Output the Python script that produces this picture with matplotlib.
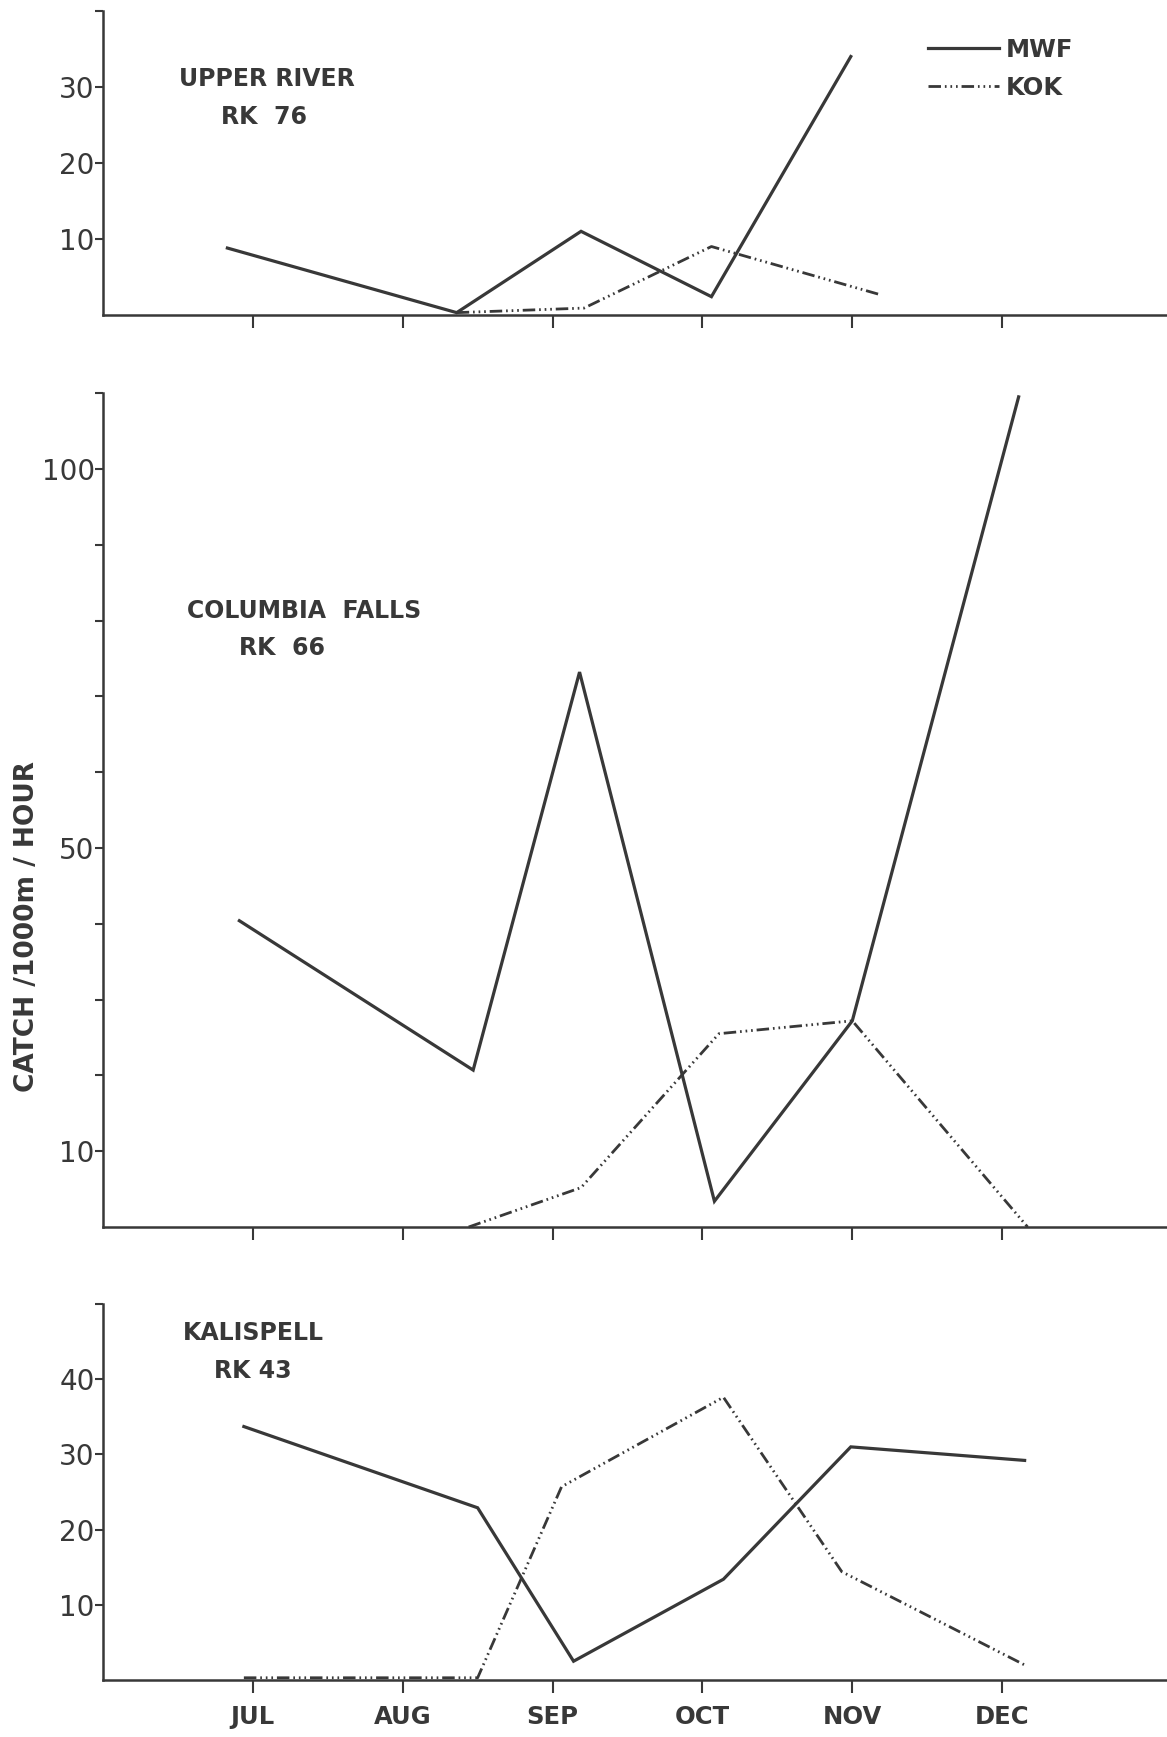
# -------------------------------------------------------------
# MONTHLY CATCH RATES - MWF AND KOK, THREE RIVER SECTIONS
# -------------------------------------------------------------


# Import libraries
import matplotlib
matplotlib.use('Agg')
import matplotlib.pyplot as plt


# Month positions (7 = JUL ... 12 = DEC) and catch / 1000m / hour
monthTicks = [7, 8, 9, 10, 11, 12]
monthLabels = ['JUL', 'AUG', 'SEP', 'OCT', 'NOV', 'DEC']

# Upper River, RK 76
upperMwfX = [6.83, 8.36, 9.19, 10.06, 10.99]
upperMwfY = [8.8, 0.3, 11.0, 2.4, 34.0]
upperKokX = [8.36, 9.21, 10.06, 11.18]
upperKokY = [0.3, 0.9, 9.0, 2.7]

# Columbia Falls, RK 66
columbiaMwfX = [6.91, 8.47, 9.18, 10.08, 11.0, 12.11]
columbiaMwfY = [40.4, 20.7, 73.2, 3.4, 27.2, 109.5]
columbiaKokX = [8.44, 9.19, 10.11, 11.0, 12.17]
columbiaKokY = [0.0, 5.2, 25.5, 27.2, 0.0]

# Kalispell, RK 43
kalispellMwfX = [6.94, 8.50, 9.14, 10.14, 10.99, 12.15]
kalispellMwfY = [33.7, 22.9, 2.5, 13.4, 31.0, 29.2]
kalispellKokX = [6.94, 8.50, 9.06, 10.14, 10.93, 12.16]
kalispellKokY = [0.3, 0.3, 25.7, 37.6, 14.4, 1.9]


# Common style
ink = '#383838'
kokDashes = (4.5, 1.4, 0.6, 1.4, 0.6, 1.4, 0.6, 1.4)
plt.rcParams['font.family'] = ['DejaVu Sans']


# Set up spines, ticks and labels of one panel
def styleAxes(axes, ymax, yticks, ylabels, showMonths):

    axes.set_xlim(6.0, 13.1)
    axes.set_ylim(0, ymax)
    for side in ['top', 'right']:
        axes.spines[side].set_visible(False)
    for side in ['left', 'bottom']:
        axes.spines[side].set_linewidth(1.8)
        axes.spines[side].set_color(ink)

    axes.set_yticks(yticks)
    axes.set_yticklabels(ylabels, fontsize=20, color=ink)
    axes.tick_params(axis='y', direction='out', length=6, width=1.5,
                     color=ink, pad=0)

    axes.set_xticks(monthTicks)
    if showMonths:
        axes.set_xticklabels(monthLabels, fontsize=17.5, fontweight='bold',
                             color=ink)
    else:
        axes.set_xticklabels([''] * len(monthTicks))
    axes.tick_params(axis='x', direction='out', length=9, width=1.5,
                     color=ink, pad=9)


# Draw both series into one panel
def drawSeries(axes, mwfX, mwfY, kokX, kokY):

    axes.plot(mwfX, mwfY, '-', color=ink, linewidth=2.3, label='MWF',
              clip_on=False, solid_joinstyle='miter')
    axes.plot(kokX, kokY, color=ink, linewidth=2.0, dashes=kokDashes,
              label='KOK', clip_on=False)


# Panel title in two lines
def panelTitle(axes, x1, y1, line1, x2, y2, line2):

    axes.text(x1, y1, line1, transform=axes.transAxes, ha='center',
              va='center', fontsize=17, fontweight='bold', color=ink)
    axes.text(x2, y2, line2, transform=axes.transAxes, ha='center',
              va='center', fontsize=17, fontweight='bold', color=ink)


# Figure
fig = plt.figure(figsize=(11.67, 17.37), dpi=100)
fig.patch.set_facecolor('white')

left = 103 / 1167
width = 1.0 - left

# Upper River
ax1 = fig.add_axes([left, 0.8187, width, 0.175])
drawSeries(ax1, upperMwfX, upperMwfY, upperKokX, upperKokY)
styleAxes(ax1, 40, [10, 20, 30, 40], ['10', '20', '30', ''], False)
panelTitle(ax1, 0.154, 0.775, 'UPPER RIVER', 0.151, 0.65, 'RK  76')
leg = ax1.legend(loc='upper left', bbox_to_anchor=(0.764, 0.952), frameon=False,
                 handlelength=2.9, handletextpad=0.3, labelspacing=0.58,
                 borderpad=0, prop={'size': 17.5, 'weight': 'bold'})
for txt in leg.get_texts():
    txt.set_color(ink)

# Columbia Falls
ax2 = fig.add_axes([left, 0.2936, width, 0.4801])
drawSeries(ax2, columbiaMwfX, columbiaMwfY, columbiaKokX, columbiaKokY)
yt2 = [10, 20, 30, 40, 50, 60, 70, 80, 90, 100, 110]
yl2 = ['10', '', '', '', '50', '', '', '', '', '100', '']
styleAxes(ax2, 110, yt2, yl2, False)
panelTitle(ax2, 0.189, 0.739, 'COLUMBIA  FALLS', 0.168, 0.694, 'RK  66')

# Kalispell
ax3 = fig.add_axes([left, 0.0328, width, 0.2165])
drawSeries(ax3, kalispellMwfX, kalispellMwfY, kalispellKokX, kalispellKokY)
styleAxes(ax3, 50, [10, 20, 30, 40, 50], ['10', '20', '30', '40', ''], True)
panelTitle(ax3, 0.141, 0.923, 'KALISPELL', 0.141, 0.823, 'RK 43')

# Shared y label
fig.text(0.023, 1 - 927 / 1737, 'CATCH /1000m / HOUR', rotation=90,
         ha='center', va='center', fontsize=19, fontweight='bold', color=ink)

plt.savefig('out.png', dpi=100, facecolor='white')
